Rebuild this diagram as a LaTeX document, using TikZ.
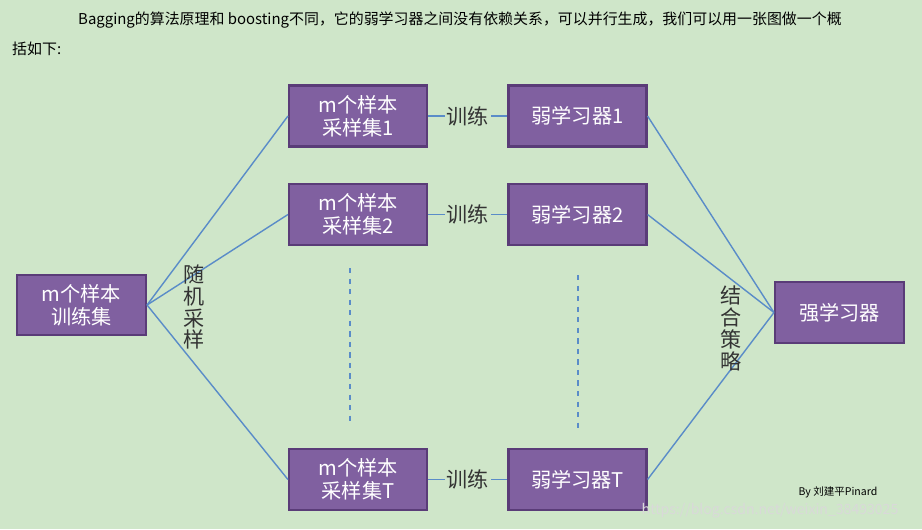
\documentclass[tikz,border=0pt]{standalone}
\usepackage{fontspec}
\setmainfont{Noto Sans CJK SC}
\usetikzlibrary{positioning}
\definecolor{bgcol}{RGB}{207,230,201}
\definecolor{boxcol}{RGB}{128,96,160}
\definecolor{boxline}{RGB}{90,60,120}
\definecolor{linkcol}{RGB}{90,140,200}
\tikzset{box/.style={draw=boxline, line width=1.2pt, fill=boxcol, text=white, minimum width=2.76cm, minimum height=1.22cm, align=center, font=\fontsize{11.5}{13}\selectfont, inner sep=1pt},
  link/.style={draw=linkcol, line width=0.8pt},
  lbl/.style={font=\fontsize{12}{14}\selectfont, text=black!80},
  sep/.style={draw=linkcol, dashed, line width=0.8pt}}
\begin{document}
\begin{tikzpicture}[x=0.02cm, y=-0.02cm]
\fill[bgcol] (0,0) rectangle (922,529);
\useasboundingbox (0,0) rectangle (922,529);
% header text
\node[anchor=west, font=\fontsize{8.5}{10}\selectfont] (hdrA) at (72,20) {Bagging的算法原理和 boosting不同，它的弱学习器之间没有依赖关系，可以并行生成，我们可以用一张图做一个概};
\node[anchor=west, font=\fontsize{8.5}{10}\selectfont] (hdrB) at (6,49) {括如下:};
% boxes
\node[box, minimum width=2.58cm, minimum height=1.2cm] (train) at (81.5,305) {m个样本\\训练集};
\node[box] (setA) at (358,116) {m个样本\\采样集1};
\node[box] (setB) at (358,214.5) {m个样本\\采样集2};
\node[box] (setT) at (358,479.5) {m个样本\\采样集T};
\node[box] (weakA) at (577.5,116) {弱学习器1};
\node[box] (weakB) at (577.5,214.5) {弱学习器2};
\node[box] (weakT) at (577.5,479.5) {弱学习器T};
\node[box, minimum width=2.58cm] (strong) at (839.5,312.5) {强学习器};
% connectors
\foreach \s in {setA,setB,setT}
  \draw[link] (train.east) -- (\s.west);
\foreach \w in {weakA,weakB,weakT}
  \draw[link] (\w.east) -- (strong.west);
\draw[link] (setA.east) -- node[lbl, fill=bgcol, inner sep=1pt] {训练} (weakA.west);
\draw[link] (setB.east) -- node[lbl, fill=bgcol, inner sep=1pt] {训练} (weakB.west);
\draw[link] (setT.east) -- node[lbl, fill=bgcol, inner sep=1pt] {训练} (weakT.west);
% dashed separators
\coordinate (dA1) at (350,268); \coordinate (dA2) at (350,425);
\coordinate (dB1) at (578,275); \coordinate (dB2) at (578,432);
\draw[sep] (dA1) -- (dA2);
\draw[sep] (dB1) -- (dB2);
% vertical labels
\node[lbl, align=center, font=\fontsize{12}{12.5}\selectfont] (sample) at (194,307) {随\\机\\采\\样};
\node[lbl, align=center, font=\fontsize{12}{12.5}\selectfont] (combine) at (731,328) {结\\合\\策\\略};
\node[font=\fontsize{6}{7}\selectfont] (author) at (838,492) {By 刘建平Pinard};
\node[font=\fontsize{8}{9}\selectfont, text=white!70!gray] (mark) at (770,511) {https://blog.csdn.net/weixin\_38493025};
\end{tikzpicture}
\end{document}
